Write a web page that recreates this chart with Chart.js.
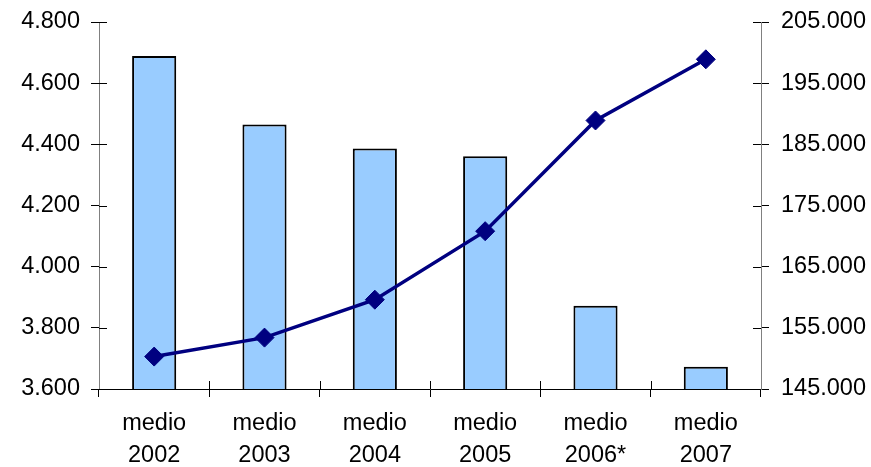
<!DOCTYPE html>
<html>
<head>
<meta charset="utf-8">
<script src="https://cdn.jsdelivr.net/npm/chart.js@4/dist/chart.umd.min.js"></script>
<style>
  html, body { margin: 0; padding: 0; background: #fff; }
  #wrap { width: 871px; height: 467px; }
</style>
</head>
<body>
<div id="wrap"><canvas id="chart" width="871" height="467"></canvas></div>
<script>
// data
const years = [['medio', '2002'], ['medio', '2003'], ['medio', '2004'], ['medio', '2005'], ['medio', '2006*'], ['medio', '2007']];
const barValues = [4689, 4465, 4386, 4361, 3872, 3673];
const lineValues = [150300, 153400, 159600, 170800, 188900, 198900];

const leftMin = 3600, leftMax = 4800, leftStep = 200;
const rightMin = 145000, rightMax = 205000, rightStep = 10000;

function dots(v) {
    return String(v).replace(/\B(?=(\d{3})+(?!\d))/g, '.');
}

// ticks in the reference cross the axis line, Chart.js only draws the outer half
const innerTicks = {
    id: 'innerTicks',
    afterDraw(chart) {
        const c = chart.ctx;
        const x = chart.scales.x, y = chart.scales.y, y1 = chart.scales.y1;
        const len = 8;
        c.save();
        c.strokeStyle = '#000';
        c.lineWidth = 1;
        c.beginPath();
        y.ticks.forEach(t => {
            const p = Math.round(y.getPixelForValue(t.value)) + 0.5;
            c.moveTo(y.right, p); c.lineTo(y.right + len, p);
        });
        y1.ticks.forEach(t => {
            const p = Math.round(y1.getPixelForValue(t.value)) + 0.5;
            c.moveTo(y1.left - len, p); c.lineTo(y1.left, p);
        });
        const n = years.length;
        for (let i = 1; i < n; i++) {
            const p = Math.round(x.left + i * x.width / n) + 0.5;
            c.moveTo(p, x.top - len); c.lineTo(p, x.top);
        }
        c.stroke();
        c.restore();
    }
};

const ctx = document.getElementById('chart').getContext('2d');
const family = 'Liberation Sans, Arial, sans-serif';

function fitY(width) {
    return function (s) {
        s.width = width;
        s.paddingTop = 0;
        s.paddingBottom = 0;
    };
}

new Chart(ctx, {
    data: {
        labels: years,
        datasets: [
            {
                type: 'line',
                data: lineValues,
                yAxisID: 'y1',
                borderColor: '#000080',
                backgroundColor: '#000080',
                borderWidth: 3.5,
                pointStyle: 'rectRot',
                pointRadius: 9.5,
                pointBorderWidth: 1,
                tension: 0,
                order: 0
            },
            {
                type: 'bar',
                data: barValues,
                yAxisID: 'y',
                backgroundColor: '#99CCFF',
                borderColor: '#000',
                borderWidth: 2,
                barPercentage: 0.4,
                categoryPercentage: 1,
                order: 1
            }
        ]
    },
    options: {
        responsive: false,
        animation: false,
        layout: { padding: { top: 22, left: 0, right: 0, bottom: 0 } },
        plugins: { legend: { display: false }, tooltip: { enabled: false } },
        scales: {
            x: {
                offset: true,
                grid: { drawOnChartArea: false, offset: true, tickLength: 8, color: '#000' },
                border: { color: '#000', width: 1 },
                ticks: { color: '#000', font: { family: family, size: 23.5, lineHeight: 1.35 }, padding: 11, maxRotation: 0 },
                afterFit(s) { s.height = 78; s.paddingLeft = 0; s.paddingRight = 0; }
            },
            y: {
                position: 'left',
                min: leftMin, max: leftMax,
                grid: { drawOnChartArea: false, tickLength: 8, color: '#000' },
                border: { color: '#808080', width: 1 },
                ticks: { stepSize: leftStep, color: '#000', font: { family: family, size: 23.5 }, padding: 11, callback: v => dots(v) },
                afterFit: fitY(99)
            },
            y1: {
                position: 'right',
                min: rightMin, max: rightMax,
                grid: { drawOnChartArea: false, tickLength: 8, color: '#000' },
                border: { color: '#808080', width: 1 },
                ticks: { stepSize: rightStep, color: '#000', font: { family: family, size: 23.5 }, padding: 12, callback: v => dots(v) },
                afterFit: fitY(110)
            }
        }
    },
    plugins: [innerTicks]
});
</script>
</body>
</html>
